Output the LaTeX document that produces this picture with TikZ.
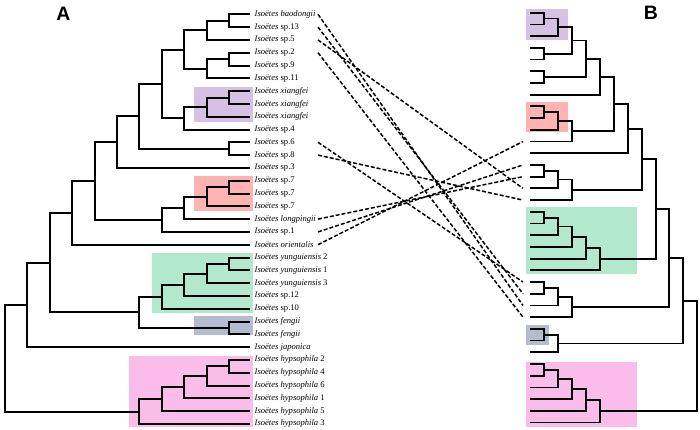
\documentclass[tikz,border=0pt]{standalone}
\usepackage{fontspec}
\setmainfont{Liberation Serif}
\newfontfamily\panelfont{Liberation Sans}
\newcommand\isoname{\textit{Isoëtes}}
\definecolor{cpurple}{RGB}{214,192,228}
\definecolor{cred}{RGB}{255,178,178}
\definecolor{cgreen}{RGB}{178,232,204}
\definecolor{cgray}{RGB}{180,188,208}
\definecolor{cpink}{RGB}{250,188,232}
\newcommand\cladepair[3]{\draw (#1) |- (#2) (#1) |- (#3);}
\begin{document}
\begin{tikzpicture}[x=1bp,y=-1bp,
  ltree/.style={line width=2bp},
  rtree/.style={line width=1.8bp},
  link/.style={line width=1.5bp,dash pattern=on 4bp off 2bp},
  leaflab/.style={anchor=west,inner sep=0pt,font=\fontsize{8.6}{9}\selectfont},
  panel/.style={inner sep=0pt,font=\panelfont\bfseries\fontsize{19.5}{19.5}\selectfont}]
\useasboundingbox (0,0) rectangle (700,429);
% highlight boxes, left
\fill[cpurple] (194,87) rectangle (253,122);
\fill[cred] (194,176) rectangle (253,211);
\fill[cgreen] (152,253) rectangle (253,313);
\fill[cgray] (194,316) rectangle (253,335);
\fill[cpink] (129,356) rectangle (253,427);
% highlight boxes, right
\fill[cpurple] (525.7,9) rectangle (567.7,40);
\fill[cred] (525.7,102) rectangle (567.7,132);
\fill[cgreen] (525.7,207.3) rectangle (636.7,274.3);
\fill[cgray] (525.7,325) rectangle (549.3,345);
\fill[cpink] (525.7,361.7) rectangle (636.7,427);
% panel letters
\node[panel] (pA) at (63.5,14) {A};
\node[panel] (pB) at (651,13) {B};
% ---------- left tree ----------
\begin{scope}[yshift=-14.3bp,y=-12.8bp]
\foreach \i in {0,...,32} {\coordinate (L\i) at (250,\i); \coordinate (D\i) at (318,\i);}
\node[leaflab] (t0) at (254.5,0) {\isoname{} \textit{baodongii}};
\node[leaflab] (t1) at (254.5,1) {\isoname{} sp.13};
\node[leaflab] (t2) at (254.5,2) {\isoname{} sp.5};
\node[leaflab] (t3) at (254.5,3) {\isoname{} sp.2};
\node[leaflab] (t4) at (254.5,4) {\isoname{} sp.9};
\node[leaflab] (t5) at (254.5,5) {\isoname{} sp.11};
\node[leaflab] (t6) at (254.5,6) {\isoname{} \textit{xiangfei}};
\node[leaflab] (t7) at (254.5,7) {\isoname{} \textit{xiangfei}};
\node[leaflab] (t8) at (254.5,8) {\isoname{} \textit{xiangfei}};
\node[leaflab] (t9) at (254.5,9) {\isoname{} sp.4};
\node[leaflab] (t10) at (254.5,10) {\isoname{} sp.6};
\node[leaflab] (t11) at (254.5,11) {\isoname{} sp.8};
\node[leaflab] (t12) at (254.5,12) {\isoname{} sp.3};
\node[leaflab] (t13) at (254.5,13) {\isoname{} sp.7};
\node[leaflab] (t14) at (254.5,14) {\isoname{} sp.7};
\node[leaflab] (t15) at (254.5,15) {\isoname{} sp.7};
\node[leaflab] (t16) at (254.5,16) {\isoname{} \textit{longpingii}};
\node[leaflab] (t17) at (254.5,17) {\isoname{} sp.1};
\node[leaflab] (t18) at (254.5,18) {\isoname{} \textit{orientalis}};
\node[leaflab] (t19) at (254.5,19) {\isoname{} \textit{yunguiensis} 2};
\node[leaflab] (t20) at (254.5,20) {\isoname{} \textit{yunguiensis} 1};
\node[leaflab] (t21) at (254.5,21) {\isoname{} \textit{yunguiensis} 3};
\node[leaflab] (t22) at (254.5,22) {\isoname{} sp.12};
\node[leaflab] (t23) at (254.5,23) {\isoname{} sp.10};
\node[leaflab] (t24) at (254.5,24) {\isoname{} \textit{fengii}};
\node[leaflab] (t25) at (254.5,25) {\isoname{} \textit{fengii}};
\node[leaflab] (t26) at (254.5,26) {\isoname{} \textit{japonica}};
\node[leaflab] (t27) at (254.5,27) {\isoname{} \textit{hypsophila} 2};
\node[leaflab] (t28) at (254.5,28) {\isoname{} \textit{hypsophila} 4};
\node[leaflab] (t29) at (254.5,29) {\isoname{} \textit{hypsophila} 6};
\node[leaflab] (t30) at (254.5,30) {\isoname{} \textit{hypsophila} 1};
\node[leaflab] (t31) at (254.5,31) {\isoname{} \textit{hypsophila} 5};
\node[leaflab] (t32) at (254.5,32) {\isoname{} \textit{hypsophila} 3};
\coordinate (a1) at (229,0.5);
\coordinate (a2) at (207,1.25);
\coordinate (a3) at (229,3.5);
\coordinate (a4) at (207,4.25);
\coordinate (a5) at (184,2.75);
\coordinate (a6) at (229,6.5);
\coordinate (a7) at (207,7.25);
\coordinate (a8) at (184,8.125);
\coordinate (a9) at (162,5.4375);
\coordinate (a10) at (229,10.5);
\coordinate (a11) at (139,7.96875);
\coordinate (a12) at (117,9.984375);
\coordinate (a13) at (229,13.5);
\coordinate (a14) at (207,14.25);
\coordinate (a15) at (184,15.125);
\coordinate (a16) at (162,16.0625);
\coordinate (a17) at (95,13.0234375);
\coordinate (a18) at (72,15.51171875);
\coordinate (a19) at (229,19.5);
\coordinate (a20) at (207,20.25);
\coordinate (a21) at (184,21.125);
\coordinate (a22) at (162,22.0625);
\coordinate (a23) at (229,24.5);
\coordinate (a24) at (139,23.28125);
\coordinate (a25) at (50,19.396484375);
\coordinate (a26) at (27,22.6982421875);
\coordinate (a27) at (229,27.5);
\coordinate (a28) at (207,28.25);
\coordinate (a29) at (184,29.125);
\coordinate (a30) at (162,30.0625);
\coordinate (a31) at (139,31.03125);
\coordinate (a0) at (5,26.86);
\begin{scope}[ltree]
\cladepair{a1}{L0}{L1}
\cladepair{a2}{a1}{L2}
\cladepair{a3}{L3}{L4}
\cladepair{a4}{a3}{L5}
\cladepair{a5}{a2}{a4}
\cladepair{a6}{L6}{L7}
\cladepair{a7}{a6}{L8}
\cladepair{a8}{a7}{L9}
\cladepair{a9}{a5}{a8}
\cladepair{a10}{L10}{L11}
\cladepair{a11}{a9}{a10}
\cladepair{a12}{a11}{L12}
\cladepair{a13}{L13}{L14}
\cladepair{a14}{a13}{L15}
\cladepair{a15}{a14}{L16}
\cladepair{a16}{a15}{L17}
\cladepair{a17}{a12}{a16}
\cladepair{a18}{a17}{L18}
\cladepair{a19}{L19}{L20}
\cladepair{a20}{a19}{L21}
\cladepair{a21}{a20}{L22}
\cladepair{a22}{a21}{L23}
\cladepair{a23}{L24}{L25}
\cladepair{a24}{a22}{a23}
\cladepair{a25}{a18}{a24}
\cladepair{a26}{a25}{L26}
\cladepair{a27}{L27}{L28}
\cladepair{a28}{a27}{L29}
\cladepair{a29}{a28}{L30}
\cladepair{a30}{a29}{L31}
\cladepair{a31}{a30}{L32}
\cladepair{a0}{a26}{a31}
\end{scope}
\end{scope}
% ---------- right tree ----------
\begin{scope}[yshift=-12.7bp,y=-11.71bp]
\foreach \j in {0,...,35} {\coordinate (R\j) at (530,\j); \coordinate (E\j) at (523,\j);}
\coordinate (b1) at (544,0.5);
\coordinate (b2) at (558,1.25);
\coordinate (b3) at (544,3.5);
\coordinate (b4) at (572,2.375);
\coordinate (b5) at (544,5.5);
\coordinate (b6) at (586,3.9375);
\coordinate (b7) at (600,5.46875);
\coordinate (b8) at (544,8.5);
\coordinate (b9) at (558,9.25);
\coordinate (b10) at (572,10.125);
\coordinate (b11) at (614,7.796875);
\coordinate (b12) at (628,9.8984375);
\coordinate (b13) at (544,13.5);
\coordinate (b14) at (558,14.25);
\coordinate (b15) at (572,15.125);
\coordinate (b16) at (642,12.51171875);
\coordinate (g1) at (544,17.5);
\coordinate (g2) at (558,18.25);
\coordinate (g3) at (572,19.125);
\coordinate (g4) at (586,20.0625);
\coordinate (g5) at (600,21.03125);
\coordinate (b17) at (656,16.771484375);
\coordinate (b18) at (544,23.5);
\coordinate (b19) at (558,24.25);
\coordinate (b20) at (572,25.125);
\coordinate (b21) at (669,20.9482421875);
\coordinate (b22) at (544,27.5);
\coordinate (b23) at (558,28.25);
\coordinate (b24) at (683,24.59912109375);
\coordinate (p1) at (544,30.5);
\coordinate (p2) at (558,31.25);
\coordinate (p3) at (572,32.125);
\coordinate (p4) at (586,33.0625);
\coordinate (p5) at (600,34.03125);
\coordinate (b0) at (697,29.315);
\begin{scope}[rtree]
\cladepair{b1}{R0}{R1}
\cladepair{b2}{b1}{R2}
\cladepair{b3}{R3}{R4}
\cladepair{b4}{b2}{b3}
\cladepair{b5}{R5}{R6}
\cladepair{b6}{b4}{b5}
\cladepair{b7}{b6}{R7}
\cladepair{b8}{R8}{R9}
\cladepair{b9}{b8}{R10}
\cladepair{b10}{b9}{R11}
\cladepair{b11}{b7}{b10}
\cladepair{b12}{b11}{R12}
\cladepair{b13}{R13}{R14}
\cladepair{b14}{b13}{R15}
\cladepair{b15}{b14}{R16}
\cladepair{b16}{b12}{b15}
\cladepair{g1}{R17}{R18}
\cladepair{g2}{g1}{R19}
\cladepair{g3}{g2}{R20}
\cladepair{g4}{g3}{R21}
\cladepair{g5}{g4}{R22}
\cladepair{b17}{b16}{g5}
\cladepair{b18}{R23}{R24}
\cladepair{b19}{b18}{R25}
\cladepair{b20}{b19}{R26}
\cladepair{b21}{b17}{b20}
\cladepair{b22}{R27}{R28}
\cladepair{b23}{b22}{R29}
\cladepair{b24}{b21}{b23}
\cladepair{p1}{R30}{R31}
\cladepair{p2}{p1}{R32}
\cladepair{p3}{p2}{R33}
\cladepair{p4}{p3}{R34}
\cladepair{p5}{p4}{R35}
\cladepair{b0}{b24}{p5}
\end{scope}
\end{scope}
% ---------- dashed links ----------
\draw[link] (D0) -- (E25);
\draw[link] (D1) -- (E24);
\draw[link] (D2) -- (E15);
\draw[link] (D3) -- (E26);
\draw[link] (D10) -- (E23);
\draw[link] (D11) -- (E16);
\draw[link] (D16) -- (E14);
\draw[link] (D17) -- (E13);
\draw[link] (D18) -- (E11);
\end{tikzpicture}
\end{document}
